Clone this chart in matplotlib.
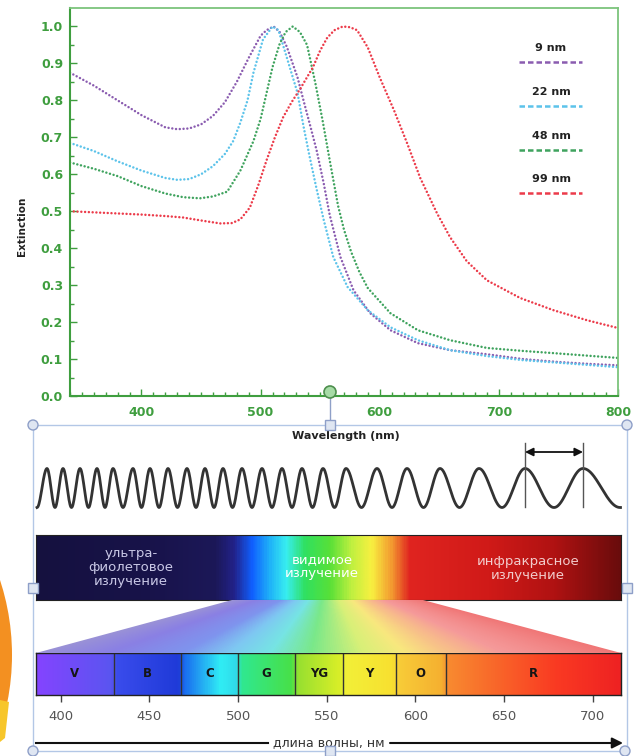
import numpy as np
import matplotlib
matplotlib.use('Agg')
import matplotlib.pyplot as plt
from matplotlib.patches import Polygon, Circle, Rectangle
from matplotlib.colors import LinearSegmentedColormap

# ---------------- data ----------------
wl_9 = [340,360,380,400,420,430,440,450,460,470,480,490,500,505,511,516,522,531,536,542,547,553,558,567,578,592,609,632,659,690,720,750,775,800]
ext_9 = [0.875,0.84,0.80,0.76,0.727,0.722,0.724,0.735,0.758,0.795,0.85,0.915,0.975,0.99,1.0,0.985,0.945,0.862,0.80,0.727,0.665,0.575,0.49,0.376,0.286,0.224,0.178,0.143,0.124,0.113,0.10,0.092,0.087,0.083]

wl_22 = [340,360,380,400,420,430,440,450,460,470,477,483,489,494,502,510,515,522,531,536,541,547,553,561,573,590,609,632,659,690,720,750,775,800]
ext_22 = [0.685,0.663,0.635,0.61,0.59,0.585,0.587,0.60,0.622,0.655,0.69,0.74,0.80,0.875,0.965,1.0,0.99,0.916,0.82,0.73,0.65,0.56,0.476,0.376,0.295,0.232,0.186,0.151,0.124,0.108,0.097,0.09,0.084,0.078]

wl_48 = [340,360,380,400,420,435,449,460,472,483,494,500,505,510,516,521,527,533,539,546,552,558,565,570,576,583,590,609,632,659,690,720,746,775,800]
ext_48 = [0.632,0.615,0.595,0.568,0.548,0.538,0.535,0.54,0.553,0.61,0.69,0.75,0.82,0.89,0.953,0.985,1.0,0.985,0.95,0.846,0.746,0.638,0.515,0.45,0.39,0.335,0.292,0.224,0.178,0.151,0.130,0.122,0.116,0.109,0.103]

wl_99 = [340,360,380,400,420,435,450,466,476,483,491,498,505,512,519,526,533,544,550,556,562,569,575,581,590,600,612,623,634,648,659,673,690,718,746,774,800]
ext_99 = [0.50,0.497,0.494,0.491,0.487,0.483,0.475,0.467,0.468,0.478,0.51,0.57,0.638,0.70,0.755,0.795,0.83,0.89,0.935,0.97,0.99,1.0,0.998,0.99,0.943,0.862,0.773,0.684,0.59,0.495,0.43,0.365,0.313,0.265,0.232,0.205,0.184]

series_labels = ['9 nm', '22 nm', '48 nm', '99 nm']
series_colors = ['#8a5cb0', '#5cc3ea', '#3fa35e', '#ec3b4a']

x_ticks = [400, 500, 600, 700, 800]
y_ticks = [0.0, 0.1, 0.2, 0.3, 0.4, 0.5, 0.6, 0.7, 0.8, 0.9, 1.0]

# visible-band boundaries (nm) and labels
band_edges = [386, 430, 468, 500, 532, 559, 589, 617, 716]
band_labels = ['V', 'B', 'C', 'G', 'YG', 'Y', 'O', 'R']
band_ticks = [400, 450, 500, 550, 600, 650, 700]

# wave crest positions (px) for the schematic wave
wave_peaks = [47, 63, 80, 97, 113, 133, 150, 168, 187, 205, 223, 242, 262, 282, 302, 323, 346, 377, 407, 440, 479, 525, 583]

region_texts = ['ультра-\nфиолетовое\nизлучение', 'видимое\nизлучение', 'инфракрасное\nизлучение']

# ---------------- figure ----------------
W, H = 638, 756
fig = plt.figure(figsize=(W / 100, H / 100), dpi=100)
fig.patch.set_facecolor('white')


def ax_px(x0, y0, x1, y1, **kw):
    return fig.add_axes([x0 / W, 1 - y1 / H, (x1 - x0) / W, (y1 - y0) / H], **kw)


GREEN = '#3f9e3f'

# ---------------- top chart ----------------
ax = ax_px(70, 8, 618, 396)
for wl, ext, col in zip([wl_9, wl_22, wl_48, wl_99], [ext_9, ext_22, ext_48, ext_99], series_colors):
    ax.plot(wl, ext, color=col, lw=1.8, linestyle=(0, (0.01, 1.5)), dash_capstyle='round')
ax.set_xlim(340, 800)
ax.set_ylim(0, 1.05)
ax.set_xticks(x_ticks)
ax.set_xticks(np.arange(340, 801, 10), minor=True)
ax.set_yticks(y_ticks)
ax.set_yticks(np.arange(0.05, 1.05, 0.1), minor=True)
ax.set_xticklabels([str(v) for v in x_ticks], fontweight='bold', fontsize=9, color=GREEN)
ax.set_yticklabels([f'{v:.1f}' for v in y_ticks], fontweight='bold', fontsize=9, color=GREEN)
ax.tick_params(which='major', direction='in', length=5, width=1, color=GREEN, pad=5)
ax.tick_params(which='minor', direction='in', length=3, width=1, color=GREEN)
ax.tick_params(axis='x', which='major', pad=7)
for s in ['left', 'bottom']:
    ax.spines[s].set_color(GREEN)
    ax.spines[s].set_linewidth(1.5)
for s in ['top', 'right']:
    ax.spines[s].set_color('#7cc47c')
    ax.spines[s].set_linewidth(1.3)

fig.text(22 / W, 1 - 226 / H, 'Extinction', rotation=90, ha='center', va='center',
         fontsize=7.5, fontweight='bold', color='#222222')
fig.text(346 / W, 1 - 436 / H, 'Wavelength (nm)', ha='center', va='center',
         fontsize=8, fontweight='bold', color='#222222')

# ---------------- overlay (pixel coords) ----------------
ov = fig.add_axes([0, 0, 1, 1], zorder=5)
ov.axis('off')
ov.patch.set_alpha(0)

# legend (manual, labels above dashed samples)
leg_y = [48, 92, 136, 179]
for lab, col, yy in zip(series_labels, series_colors, leg_y):
    ov.text(551, yy, lab, ha='center', va='center', fontsize=8, fontweight='bold', color='#222222')
    ov.plot([519, 582], [yy + 14, yy + 14], color=col, lw=1.8, linestyle=(0, (2.2, 1.2)))

# orange partial shape at the left edge
ov.add_patch(Circle((-228, 655), 240, facecolor='#f39021', edgecolor='none', zorder=1))
ov.add_patch(Polygon([(0, 700), (9, 702), (5, 738), (0, 742)], closed=True,
                     facecolor='#f7c62a', edgecolor='none', zorder=1))

# wave schematic
nx = np.arange(37, 621, 0.5)
ph_x = [37] + wave_peaks + [620]
ph_v = [-0.5] + list(range(len(wave_peaks))) + [len(wave_peaks) - 0.5]
phase = np.interp(nx, ph_x, ph_v)
ov.plot(nx, 488 - 19.5 * np.cos(2 * np.pi * phase), color='#333333', lw=2.0)
for xv in [525, 583]:
    ov.plot([xv, xv], [443, 507], color='#555555', lw=1.0)
ov.annotate('', xy=(525, 452), xytext=(583, 452),
            arrowprops=dict(arrowstyle='<|-|>', color='#111111', lw=1.3,
                            mutation_scale=12, shrinkA=0, shrinkB=0))

# ---------------- spectrum bar ----------------
spec_stops = [(36, '#15113f'), (150, '#18134a'), (215, '#1c1858'), (234, '#22228a'),
              (252, '#1060ff'), (270, '#20b4f8'), (286, '#38eef0'), (305, '#30e060'),
              (330, '#58e038'), (352, '#c0f040'), (372, '#f8f040'), (392, '#f39a30'),
              (410, '#e02420'), (490, '#d01a18'), (555, '#b01212'), (621, '#6a0c0c')]
x0s, x1s = 36, 621
cmap_spec = LinearSegmentedColormap.from_list(
    'spec', [((p - x0s) / (x1s - x0s), c) for p, c in spec_stops])
ax2 = ax_px(36, 535, 621, 600)
ax2.imshow(np.linspace(0, 1, 600)[None, :], cmap=cmap_spec, aspect='auto',
           extent=[0, 1, 0, 1], interpolation='bilinear')
ax2.set_xlim(0, 1)
ax2.set_ylim(0, 1)
ax2.set_xticks([])
ax2.set_yticks([])
for s in ax2.spines.values():
    s.set_color('#222222')
    s.set_linewidth(0.8)

ov.text(131, 567, region_texts[0], ha='center', va='center', fontsize=9.5,
        color='#c9c8e6', linespacing=1.1, zorder=6)
ov.text(322, 567, region_texts[1], ha='center', va='center', fontsize=9.5,
        color='#ffffff', linespacing=1.1, zorder=6)
ov.text(528, 568, region_texts[2], ha='center', va='center', fontsize=9.5,
        color='#f2cccc', linespacing=1.1, zorder=6)

# ---------------- fan (projection of visible region) ----------------
fan = Polygon([(232, 600), (423, 600), (621, 653), (36, 653)], closed=True,
              facecolor='none', edgecolor='none')
ov.add_patch(fan)
fan_stops = [(0.0, '#9a92d6'), (0.12, '#8a80e4'), (0.25, '#7f94ee'), (0.33, '#7ec8f2'),
             (0.40, '#76e4e4'), (0.47, '#7ae88a'), (0.56, '#d8f078'), (0.63, '#f8e87e'),
             (0.70, '#f8c488'), (0.80, '#f59a9a'), (1.0, '#f07676')]
cmap_fan = LinearSegmentedColormap.from_list('fan', fan_stops)
gx = np.linspace(36, 621, 585)
gy = np.linspace(600, 653, 54)
GX, GY = np.meshgrid(gx, gy)
frac = (GY - 600) / 53.0
left = 232 + (36 - 232) * frac
right = 423 + (621 - 423) * frac
T = np.clip((GX - left) / (right - left), 0, 1)
img = ov.imshow(T, cmap=cmap_fan, extent=[36, 621, 653, 600], aspect='auto',
                interpolation='bilinear', zorder=2)
img.set_clip_path(fan)

# ---------------- visible band bar ----------------
band_stops = [(386, '#8444ff'), (428, '#5a55f0'), (431, '#3a4cec'), (466, '#1f3ad8'),
              (470, '#1a70f0'), (490, '#30eef5'), (499, '#30d8e8'), (502, '#30e890'),
              (530, '#48e048'), (534, '#98e030'), (557, '#d8ee28'), (561, '#f2f038'),
              (587, '#f8e030'), (591, '#f8cc38'), (615, '#f5b030'), (619, '#f88a30'),
              (680, '#fa3a22'), (716, '#ee2222')]
b0, b1 = band_edges[0], band_edges[-1]
cmap_band = LinearSegmentedColormap.from_list(
    'band', [((p - b0) / (b1 - b0), c) for p, c in band_stops])
ax3 = ax_px(36, 653, 621, 695)
ax3.imshow(np.linspace(0, 1, 800)[None, :], cmap=cmap_band, aspect='auto',
           extent=[b0, b1, 0, 1], interpolation='bilinear')
ax3.set_xlim(b0, b1)
ax3.set_ylim(0, 1)
for e in band_edges[1:-1]:
    ax3.axvline(e, color='#333333', lw=1.0)
for i, lab in enumerate(band_labels):
    ax3.text((band_edges[i] + band_edges[i + 1]) / 2, 0.52, lab, ha='center', va='center',
             fontsize=8.5, fontweight='bold', color='#151515')
ax3.set_yticks([])
ax3.set_xticks(band_ticks)
ax3.set_xticklabels([str(v) for v in band_ticks], fontsize=9.5, color='#555555')
ax3.tick_params(axis='x', direction='out', length=5, width=1, color='#444444', pad=6)
for s in ax3.spines.values():
    s.set_color('#222222')
    s.set_linewidth(1.0)

# wavelength arrow
ov.plot([36, 268], [743, 743], color='#111111', lw=1.5)
ov.text(329, 743, 'длина волны, нм', ha='center', va='center', fontsize=9, color='#333333')
ov.annotate('', xy=(623, 743), xytext=(390, 743),
            arrowprops=dict(arrowstyle='-|>', color='#111111', lw=1.5,
                            mutation_scale=16, shrinkA=0, shrinkB=0))

# ---------------- selection handles ----------------
HL = '#b3c7e6'
ov.plot([33, 33], [425, 751], color=HL, lw=1.0, zorder=7)
ov.plot([627, 627], [425, 751], color=HL, lw=1.0, zorder=7)
ov.plot([33, 627], [425, 425], color=HL, lw=1.0, zorder=7)
ov.plot([33, 627], [751, 751], color=HL, lw=1.0, zorder=7)
ov.plot([330, 330], [392, 425], color='#8fa0c8', lw=1.0, zorder=7)
for cx, cy in [(33, 425), (627, 425), (33, 751), (625, 751)]:
    ov.add_patch(Circle((cx, cy), 5, facecolor='#dfe6f2', edgecolor='#8e9fc8', lw=1.0, zorder=8))
for cx, cy in [(330, 425), (33, 588), (627, 588), (330, 751)]:
    ov.add_patch(Rectangle((cx - 5, cy - 5), 10, 10, facecolor='#dfe6f2', edgecolor='#8e9fc8',
                           lw=1.0, zorder=8))
ov.add_patch(Circle((330, 392), 6, facecolor='#a6dba6', edgecolor='#4e8f4e', lw=1.2, zorder=8))

ov.set_xlim(0, W)
ov.set_ylim(H, 0)

fig.savefig('out.png', dpi=100)
